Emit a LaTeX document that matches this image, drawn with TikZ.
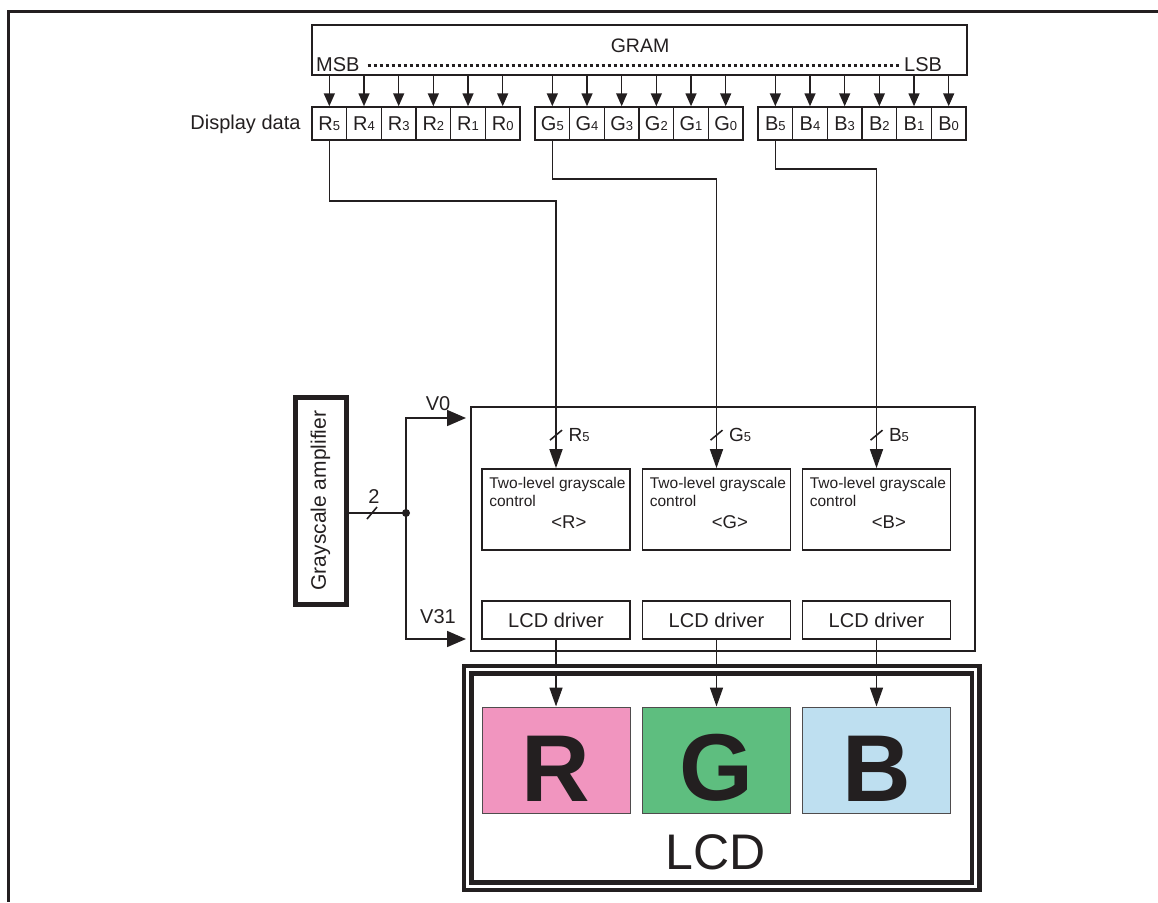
\documentclass[tikz,border=0pt]{standalone}
\usepackage{fontspec}
\setmainfont{Liberation Sans}
\usetikzlibrary{arrows.meta}
\definecolor{Ink}{RGB}{35,31,32}
\definecolor{PinkR}{RGB}{241,149,191}
\definecolor{GreenG}{RGB}{94,190,127}
\definecolor{BlueB}{RGB}{190,223,240}
\newcommand{\pxfont}[1]{\fontsize{#1}{#1}\selectfont}
\newcommand{\smalldig}[1]{{\pxfont{13}#1}}
\tikzset{
  cell/.style={draw,line width=1.5pt,minimum width=34.67pt,minimum height=33pt,inner sep=0pt,font=\pxfont{20}},
  grambox/.style={draw,line width=2pt,minimum width=655pt,minimum height=50pt},
  ctrlbox/.style={draw,line width=2pt,minimum width=504pt,minimum height=244pt},
  tlbox/.style={draw,line width=1.7pt,minimum width=148pt,minimum height=81pt},
  tltext/.style={anchor=north west,inner sep=0pt,align=left,font=\fontsize{15.5}{18}\selectfont},
  drvbox/.style={draw,line width=1.7pt,minimum width=148pt,minimum height=38pt},
  lcdbox/.style={draw=Ink!80,line width=1pt,minimum width=148pt,minimum height=106pt,text height=82pt,font=\pxfont{95}\bfseries},
  lcdframe/.style={draw,double,line width=4.5pt,double distance=3pt,minimum width=508pt,minimum height=216.5pt},
  ampbox/.style={draw,line width=5pt,minimum width=207pt,minimum height=51pt,font=\pxfont{21}},
  wire/.style={line width=1.6pt},
  datatip/.style={-{Triangle[length=13pt,width=11pt]},line width=1.6pt},
  intip/.style={-{Triangle[length=19pt,width=13pt]},line width=1.6pt},
  bigtip/.style={-{Triangle[length=19pt,width=16pt]},line width=1.7pt,shorten >=4pt},
  dotrule/.style={line width=3pt,dash pattern=on 3.5pt off 2.5pt}
}

\begin{document}
\begin{tikzpicture}[x=1pt,y=-1pt,color=Ink,font=\pxfont{20}]
\useasboundingbox (0,0) rectangle (1158,902);
\draw[line width=3pt] (1158,11) -- (8.5,11) -- (8.5,902);

% GRAM and display data
\node[grambox] (gram) at (639.5,50) {};
\node[font=\pxfont{19.5}] (gramtitle) at (640,46) {GRAM};
\node[anchor=west,inner sep=0pt] (msb) at (316,65) {MSB};
\node[anchor=west,inner sep=0pt] (lsb) at (904,65) {LSB};
\draw[dotrule] ([xshift=8pt]msb.east) -- ([xshift=-4pt]lsb.west);
\node[anchor=east] (dispdata) at (304,124) {Display data};
\foreach \i [count=\k from 0] in {5,4,3,2,1,0} {
  \node[cell] (r\i) at (329.33+34.67*\k,123.5) {R\smalldig{\i}};
  \node[cell] (g\i) at (552.33+34.67*\k,123.5) {G\smalldig{\i}};
  \node[cell] (b\i) at (775.33+34.67*\k,123.5) {B\smalldig{\i}};
  \draw[datatip] (gram.south -| r\i) -- (r\i.north);
  \draw[datatip] (gram.south -| g\i) -- (g\i.north);
  \draw[datatip] (gram.south -| b\i) -- (b\i.north);
}

% control block and LCD
\node[ctrlbox] (ctrl) at (723,529) {};
\foreach \c/\x/\col in {R/556/PinkR,G/716.5/GreenG,B/876.5/BlueB} {
  \node[tlbox] (tl\c) at (\x,509.5) {};
  \node[tltext] (tltxt\c) at ([xshift=8pt,yshift=-9pt]tl\c.north west) {Two-level grayscale\\control\\[4pt]\hspace*{62pt}{\pxfont{18.5}<\c>}};
  \node[drvbox] (drv\c) at (\x,620) {LCD driver};
  \node[lcdbox,fill=\col] (lcd\c) at (\x,760) {\c};
  \draw[intip] (drv\c.south) -- (lcd\c.north);
  \draw[wire] ([xshift=-6pt,yshift=28pt]tl\c.north) -- ([xshift=6pt,yshift=38pt]tl\c.north);
  \node[anchor=west,font=\pxfont{19}] (bit\c) at ([xshift=9pt,yshift=33pt]tl\c.north) {\c\smalldig{5}};
}
\draw[intip] (r5.south) -- ++(0,60) -| (tlR.north);
\draw[intip] (g5.south) -- ++(0,38) -| (tlG.north);
\draw[intip] (b5.south) -- ++(0,28) -| (tlB.north);
\node[lcdframe] (lcd) at (721.5,778) {};
\node[font=\pxfont{50}] (lcdlabel) at (716,852) {LCD};

% grayscale amplifier
\node[ampbox,rotate=90] (amp) at (320.5,500.5) {Grayscale amplifier};
\coordinate (jn) at (406,513);
\draw[wire] (jn -| amp.south) -- (jn);
\fill (jn) circle (4pt);
\draw[wire] (367,519) -- (377,507);
\node (two) at (374,497) {2};
\draw[bigtip] (jn) |- ([yshift=-12pt]ctrl.north west);
\draw[bigtip] (jn) |- ([yshift=13pt]ctrl.south west);
\node (vzero) at (438,404) {V0};
\node (vlast) at (438,617) {V31};
\end{tikzpicture}
\end{document}
